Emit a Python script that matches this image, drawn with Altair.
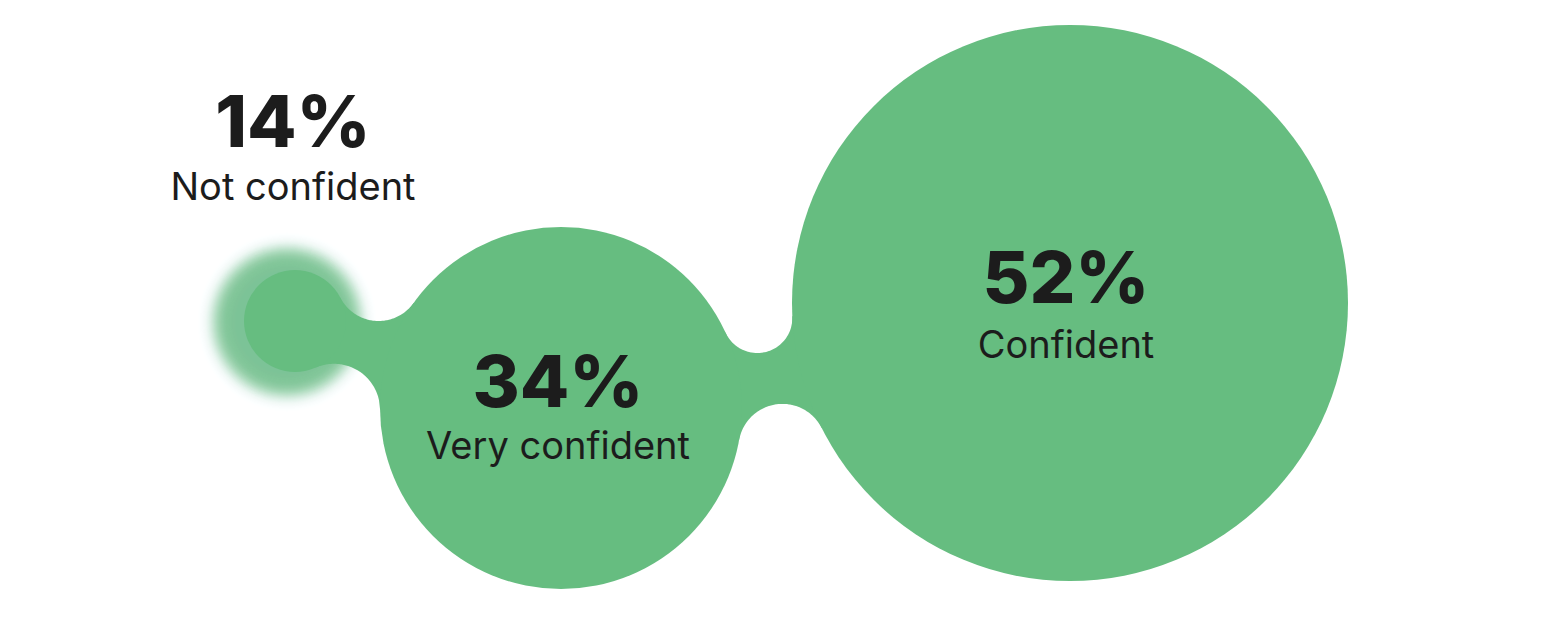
import math
import altair as alt
import pandas as pd

# ---- data ----
categories = ["Not confident", "Very confident", "Confident"]
shares = [14, 34, 52]
pct_text = [f"{v}%" for v in shares]

# bubble layout (page pixel space)
center_x = [295, 561, 1070]
center_y = [321, 408, 303]
radius = [51, 181, 278]

# necks joining consecutive bubbles: radius of the upper / lower notch
neck_from = [0, 1]
neck_to = [1, 2]
notch_upper = [43, 35]
notch_lower = [46, 44]

# soft glow behind the smallest bubble
glow_x, glow_y = 287, 322

# label anchors
label_x = [293, 558, 1066]
pct_y = [147, 407, 303]
name_y = [200, 459, 358]

GREEN = "#66bd80"
INK = "#1c1c1c"
W, H = 1544, 604
X0, Y0 = 8, 8


def notch_center(i, j, rn, upper):
    ax, ay, ra = center_x[i], center_y[i], radius[i]
    bx, by, rb = center_x[j], center_y[j], radius[j]
    r1, r2 = ra + rn, rb + rn
    dx, dy = bx - ax, by - ay
    d = math.hypot(dx, dy)
    a = (r1 * r1 - r2 * r2 + d * d) / (2 * d)
    h = math.sqrt(max(r1 * r1 - a * a, 0))
    px, py = ax + a * dx / d, ay + a * dy / d
    ux, uy = -dy / d, dx / d
    c1 = (px + h * ux, py + h * uy)
    c2 = (px - h * ux, py - h * uy)
    return min(c1, c2, key=lambda c: c[1]) if upper else max(c1, c2, key=lambda c: c[1])


def tangent_point(k, c):
    cx, cy, r = center_x[k], center_y[k], radius[k]
    dx, dy = c[0] - cx, c[1] - cy
    d = math.hypot(dx, dy)
    return (cx + r * dx / d, cy + r * dy / d)


def edge(x, A, T1, N, rn, T2, B, sign):
    if x <= T1[0]:
        t = (x - A[0]) / (T1[0] - A[0]) if T1[0] != A[0] else 0
        return A[1] + t * (T1[1] - A[1])
    if x >= T2[0]:
        t = (x - T2[0]) / (B[0] - T2[0]) if B[0] != T2[0] else 0
        return T2[1] + t * (B[1] - T2[1])
    return N[1] + sign * math.sqrt(max(rn * rn - (x - N[0]) ** 2, 0.0))


neck_rows = []
for n, (i, j) in enumerate(zip(neck_from, neck_to)):
    rt, rb = notch_upper[n], notch_lower[n]
    nt = notch_center(i, j, rt, True)
    nb = notch_center(i, j, rb, False)
    A = (center_x[i], center_y[i])
    B = (center_x[j], center_y[j])
    ti, tj = tangent_point(i, nt), tangent_point(j, nt)
    bi, bj = tangent_point(i, nb), tangent_point(j, nb)
    xs_set = set(range(int(A[0]), int(B[0]) + 1))
    xs_set |= {ti[0], tj[0], bi[0], bj[0], A[0], B[0]}
    for xv in sorted(xs_set):
        neck_rows.append({
            "neck": n, "x": xv,
            "y": edge(xv, A, ti, nt, rt, tj, B, +1),
            "y2": edge(xv, A, bi, nb, rb, bj, B, -1),
        })

bubbles = pd.DataFrame({
    "category": categories,
    "x": center_x,
    "y": center_y,
    "s": [(2 * r) ** 2 for r in radius],
})

# blurred-edge glow: concentric translucent discs
glow_mid, glow_sigma, glow_peak = 73.0, 7.0, 0.8
def glow_profile(r):
    return glow_peak * 0.5 * math.erfc((r - glow_mid) / (math.sqrt(2) * glow_sigma))

glow_rows = []
prev = 0.0
for r in range(104, 40, -1):
    A_k = glow_profile(r - 0.5)
    a_k = max(1 - (1 - A_k) / (1 - prev), 0.0)
    prev = A_k
    glow_rows.append({"x": glow_x, "y": glow_y, "s": (2 * r) ** 2, "o": a_k})

labels = pd.DataFrame({
    "x": label_x,
    "py": pct_y,
    "ny": name_y,
    "pct": pct_text,
    "name": categories,
})

xs = alt.Scale(domain=[X0, X0 + W], nice=False, zero=False)
ys = alt.Scale(domain=[Y0, Y0 + H], nice=False, zero=False, reverse=True)

glow = alt.Chart(pd.DataFrame(glow_rows)).mark_circle(
    color=GREEN, strokeWidth=0
).encode(
    x=alt.X("x:Q", scale=xs, axis=None),
    y=alt.Y("y:Q", scale=ys, axis=None),
    size=alt.Size("s:Q", scale=None, legend=None),
    opacity=alt.Opacity("o:Q", scale=None, legend=None),
)

necks = alt.Chart(pd.DataFrame(neck_rows)).mark_area(
    color=GREEN, opacity=1, interpolate="linear"
).encode(
    x=alt.X("x:Q", scale=xs, axis=None),
    y=alt.Y("y:Q", scale=ys, axis=None),
    y2="y2:Q",
    detail="neck:N",
)

circles = alt.Chart(bubbles).mark_circle(
    color=GREEN, opacity=1, strokeWidth=0
).encode(
    x=alt.X("x:Q", scale=xs, axis=None),
    y=alt.Y("y:Q", scale=ys, axis=None),
    size=alt.Size("s:Q", scale=None, legend=None),
)

pct = alt.Chart(labels).mark_text(
    font="Inter", fontWeight=800, fontSize=72, align="center",
    baseline="alphabetic", color=INK
).encode(
    x=alt.X("x:Q", scale=xs, axis=None),
    y=alt.Y("py:Q", scale=ys, axis=None),
    text="pct:N",
)

names = alt.Chart(labels).mark_text(
    font="Inter", fontWeight=400, fontSize=38, align="center",
    baseline="alphabetic", color=INK
).encode(
    x=alt.X("x:Q", scale=xs, axis=None),
    y=alt.Y("ny:Q", scale=ys, axis=None),
    text="name:N",
)

chart = alt.layer(glow, necks, circles, pct, names).properties(
    width=W, height=H, padding=0,
    autosize=alt.AutoSizeParams(type="none"),
    background="white",
).configure_view(stroke=None)

chart.save("out.html", embed_options={"renderer": "svg", "actions": False})
